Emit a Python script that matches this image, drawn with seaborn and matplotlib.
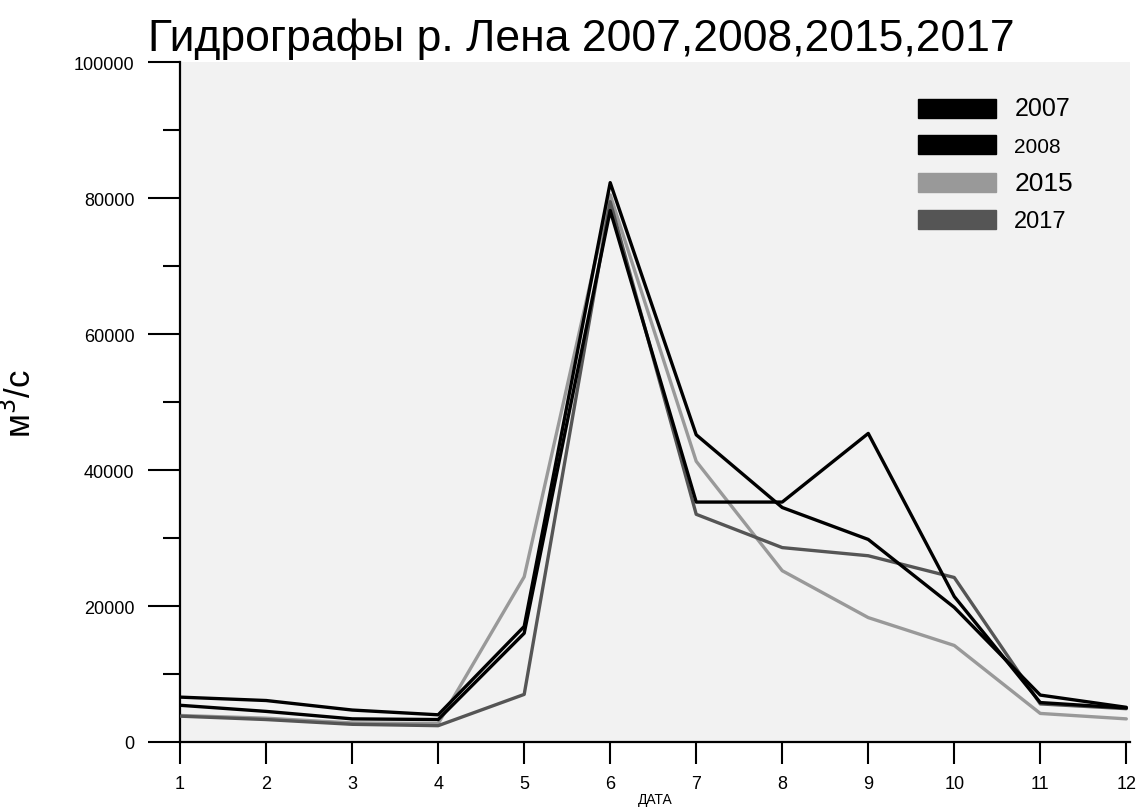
import numpy as np
import pandas as pd
import matplotlib
matplotlib.use("Agg")
import matplotlib.pyplot as plt
from matplotlib.patches import Patch
from matplotlib.ticker import MultipleLocator
import seaborn as sns

# Data (monthly discharge, m3/s)
months = list(range(1, 13))
years = ["2007", "2008", "2015", "2017"]
q_2007 = [5400, 4500, 3400, 3300, 16000, 78200, 35300, 35300, 45400, 21400, 5800, 5000]
q_2008 = [6600, 6100, 4700, 4000, 17000, 82300, 45200, 34500, 29800, 19800, 6900, 5100]
q_2015 = [3900, 3500, 2800, 2700, 24300, 80500, 41300, 25200, 18300, 14200, 4200, 3400]
q_2017 = [3800, 3300, 2600, 2400, 7000, 79500, 33500, 28600, 27400, 24200, 5600, 4900]

colors = {"2007": "#000000", "2008": "#000000", "2015": "#999999", "2017": "#555555"}
legend_sizes = {"2007": 18, "2008": 15, "2015": 19, "2017": 17}

df = pd.DataFrame({
    "month": months * 4,
    "q": q_2007 + q_2008 + q_2015 + q_2017,
    "year": sum([[y] * 12 for y in years], []),
})

sns.set_style("ticks")
plt.rcParams["font.family"] = ["Liberation Sans", "DejaVu Sans"]
for key in ["text.color", "axes.labelcolor", "xtick.color", "ytick.color"]:
    plt.rcParams[key] = "black"

fig = plt.figure(figsize=(11.4, 8.12), dpi=100)
ax = fig.add_axes([0.158, 0.085, 0.833, 0.837])
ax.set_facecolor("#f2f2f2")

sns.lineplot(data=df, x="month", y="q", hue="year", hue_order=years,
             palette=colors, linewidth=2.4, legend=False, ax=ax)

# grey lines below the black ones
for line, y in zip(ax.lines, years):
    line.set_zorder({"2007": 4, "2008": 4, "2015": 2, "2017": 3}[y])

ax.set_xlim(1, 12.04)
ax.set_ylim(0, 100000)
ax.set_xticks(months)
ax.yaxis.set_major_locator(MultipleLocator(20000))
ax.yaxis.set_minor_locator(MultipleLocator(10000))

for side in ["top", "right"]:
    ax.spines[side].set_visible(False)
for side in ["left", "bottom"]:
    ax.spines[side].set_linewidth(1.6)
    ax.spines[side].set_color("black")

ax.tick_params(axis="y", which="major", length=23, width=1.5, pad=10, labelsize=13)
ax.tick_params(axis="y", which="minor", length=12, width=1.5)
ax.tick_params(axis="x", which="major", length=16, width=1.5, pad=8, labelsize=13)

ax.set_xlabel("ДАТА", fontsize=10, labelpad=0)
ax.set_ylabel("м$^3$/с", fontsize=25, labelpad=26)
ax.set_title("Гидрографы р. Лена 2007,2008,2015,2017", fontsize=32,
             x=0.422, pad=9)

handles = [Patch(facecolor=colors[y], edgecolor=colors[y], label=y) for y in years]
leg = ax.legend(handles=handles, loc="upper left",
                bbox_to_anchor=(908 / 1140, 1 - 87 / 812),
                bbox_transform=fig.transFigure, frameon=False,
                fontsize=15, handlelength=3.7, handleheight=1.0,
                handletextpad=0.9, labelspacing=0.72, borderpad=0)
for txt in leg.get_texts():
    txt.set_fontsize(legend_sizes[txt.get_text()])

fig.savefig("out.png", dpi=100)
